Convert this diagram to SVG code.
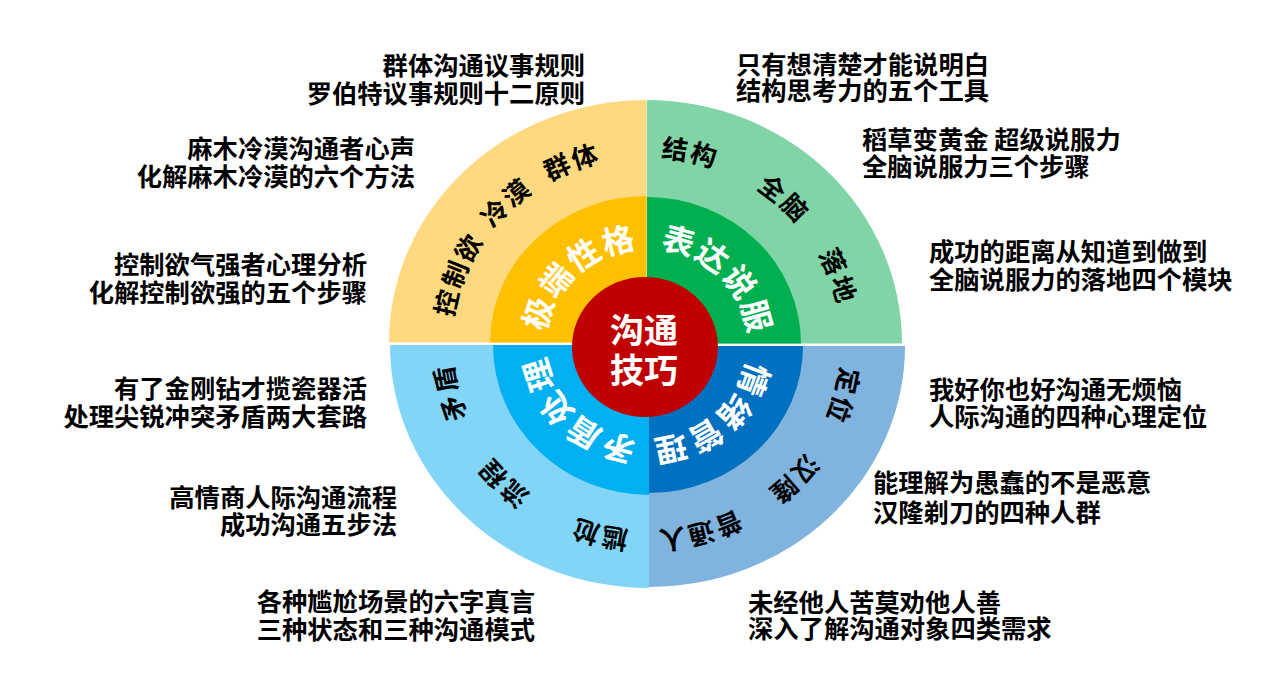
<svg xmlns="http://www.w3.org/2000/svg" xmlns:xlink="http://www.w3.org/1999/xlink" width="1285" height="677" viewBox="0 0 1285 677">
<style>
.blk{font-family:"Noto Sans CJK SC","Noto Sans",sans-serif;font-weight:700;font-size:25.3px;fill:#000}
.l{text-anchor:end}
.r{text-anchor:start}
.ring{font-family:"Noto Sans CJK SC","Noto Sans",sans-serif;font-weight:700;font-size:26px;fill:#000;letter-spacing:2px}
.mid{font-family:"Noto Sans CJK SC","Noto Sans",sans-serif;font-weight:700;font-size:32px;fill:#fff;letter-spacing:1.5px}
.core{font-family:"Noto Sans CJK SC","Noto Sans",sans-serif;font-weight:700;font-size:34px;fill:#fff;text-anchor:middle}
</style>
<defs>
<path id="p1" d="M469.6 421.6 A195 187 0 0 1 566.1 173.8"/>
<path id="p2" d="M452.0 341.7 A195 187 0 0 1 649.4 157.0"/>
<path id="p3" d="M467.4 271.2 A195 187 0 0 1 722.9 171.7"/>
<path id="p4" d="M542.2 186.3 A195 187 0 0 1 811.5 243.5"/>
<path id="p5" d="M639.5 157.1 A195 187 0 0 1 841.9 336.8"/>
<path id="p6" d="M730.0 174.8 A195 187 0 0 1 823.4 423.6"/>
<path id="p7" d="M816.0 250.8 A195 187 0 0 1 744.2 506.1"/>
<path id="p8" d="M841.9 338.1 A195 187 0 0 1 653.1 530.9"/>
<path id="p9" d="M816.6 436.4 A195 187 0 0 1 550.7 506.6"/>
<path id="p10" d="M546.9 504.5 A195 187 0 0 1 479.7 248.0"/>
<path id="p11" d="M645.6 531.0 A195 187 0 0 1 452.0 342.7"/>
<path id="p12" d="M748.0 504.0 A195 187 0 0 1 480.2 440.9"/>
<path id="q1" d="M548.9 368.3 A101.5 95.5 0 0 1 673.7 251.9"/>
<path id="q2" d="M623.8 251.0 A101.5 95.5 0 0 1 744.2 371.6"/>
<path id="q3" d="M746.3 324.1 A101.5 95.5 0 0 1 615.7 434.8"/>
<path id="q4" d="M672.8 436.3 A101.5 95.5 0 0 1 549.1 318.9"/>
</defs>
<rect width="1285" height="677" fill="#fff"/>

<g id="node-tl">
<path d="M646.5 342.5 L389 342.5 A257.5 242.5 0 0 1 646.5 100 Z" fill="#FFD980"/>
<path d="M646.5 342.5 L490 342.5 A156.5 146.5 0 0 1 646.5 196 Z" fill="#FFC000"/>
</g>
<g id="node-tr">
<path d="M647 343.5 L647 100 A255 243.5 0 0 1 902 343.5 Z" fill="#80D4A6"/>
<path d="M647 343.5 L647 197 A154 146.5 0 0 1 801 343.5 Z" fill="#00B050"/>
</g>
<g id="node-br">
<path d="M649 346 L905 346 A256 241 0 0 1 649 587 Z" fill="#80B3DD"/>
<path d="M649 346 L803 346 A154 147 0 0 1 649 493 Z" fill="#0070C0"/>
</g>
<g id="node-bl">
<path d="M649 345 L649 588 A259 243 0 0 1 390 345 Z" fill="#83D5F7"/>
<path d="M649 345 L649 495 A156 150 0 0 1 493 345 Z" fill="#00B0F0"/>
</g>

<g id="labels-ring">
<text class="ring"><textPath href="#p1" startOffset="50%" text-anchor="middle">控制欲</textPath></text>
<text class="ring"><textPath href="#p2" startOffset="50%" text-anchor="middle">冷漠</textPath></text>
<text class="ring"><textPath href="#p3" startOffset="50%" text-anchor="middle">群体</textPath></text>
<text class="ring"><textPath href="#p4" startOffset="50%" text-anchor="middle">结构</textPath></text>
<text class="ring"><textPath href="#p5" startOffset="50%" text-anchor="middle">全脑</textPath></text>
<text class="ring"><textPath href="#p6" startOffset="50%" text-anchor="middle">落地</textPath></text>
<text class="ring"><textPath href="#p7" startOffset="50%" text-anchor="middle">定位</textPath></text>
<text class="ring"><textPath href="#p8" startOffset="50%" text-anchor="middle">汉隆</textPath></text>
<text class="ring"><textPath href="#p9" startOffset="50%" text-anchor="middle">普通人</textPath></text>
<text class="ring"><textPath href="#p10" startOffset="50%" text-anchor="middle">矛盾</textPath></text>
<text class="ring"><textPath href="#p11" startOffset="50%" text-anchor="middle">流程</textPath></text>
<text class="ring"><textPath href="#p12" startOffset="50%" text-anchor="middle">尴尬</textPath></text>
</g>
<g id="labels-mid">
<text class="mid"><textPath href="#q1" startOffset="50%" text-anchor="middle">极端性格</textPath></text>
<text class="mid"><textPath href="#q2" startOffset="50%" text-anchor="middle">表达说服</textPath></text>
<text class="mid"><textPath href="#q3" startOffset="50%" text-anchor="middle">情绪管理</textPath></text>
<text class="mid"><textPath href="#q4" startOffset="50%" text-anchor="middle">矛盾处理</textPath></text>
</g>

<g id="node-core">
<ellipse cx="645" cy="347" rx="73" ry="70" fill="#C00000"/>
<text class="core" x="644" y="343">沟通</text>
<text class="core" x="644" y="383">技巧</text>
</g>

<g id="node-t1"><text class="blk l" x="585" y="74.5">群体沟通议事规则</text><text class="blk l" x="585" y="103">罗伯特议事规则十二原则</text></g>
<g id="node-t2"><text class="blk l" x="415" y="157.5">麻木冷漠沟通者心声</text><text class="blk l" x="415" y="186">化解麻木冷漠的六个方法</text></g>
<g id="node-t3"><text class="blk l" x="367" y="273.5">控制欲气强者心理分析</text><text class="blk l" x="367" y="302">化解控制欲强的五个步骤</text></g>
<g id="node-t4"><text class="blk l" x="367" y="398">有了金刚钻才揽瓷器活</text><text class="blk l" x="367" y="425.5">处理尖锐冲突矛盾两大套路</text></g>
<g id="node-t5"><text class="blk l" x="397" y="506.5">高情商人际沟通流程</text><text class="blk l" x="397" y="534">成功沟通五步法</text></g>
<g id="node-t6"><text class="blk l" x="535" y="611">各种尴尬场景的六字真言</text><text class="blk l" x="535" y="638.5">三种状态和三种沟通模式</text></g>

<g id="node-t7"><text class="blk r" x="736" y="73.5">只有想清楚才能说明白</text><text class="blk r" x="736" y="100">结构思考力的五个工具</text></g>
<g id="node-t8"><text class="blk r" x="862" y="148.5">稻草变黄金 超级说服力</text><text class="blk r" x="862" y="175.5">全脑说服力三个步骤</text></g>
<g id="node-t9"><text class="blk r" x="929" y="260.5">成功的距离从知道到做到</text><text class="blk r" x="929" y="288.5">全脑说服力的落地四个模块</text></g>
<g id="node-t10"><text class="blk r" x="929" y="398.5">我好你也好沟通无烦恼</text><text class="blk r" x="929" y="425.5">人际沟通的四种心理定位</text></g>
<g id="node-t11"><text class="blk r" x="873" y="491.5">能理解为愚蠢的不是恶意</text><text class="blk r" x="873" y="521.5">汉隆剃刀的四种人群</text></g>
<g id="node-t12"><text class="blk r" x="748" y="611.5">未经他人苦莫劝他人善</text><text class="blk r" x="748" y="637.5">深入了解沟通对象四类需求</text></g>
</svg>
